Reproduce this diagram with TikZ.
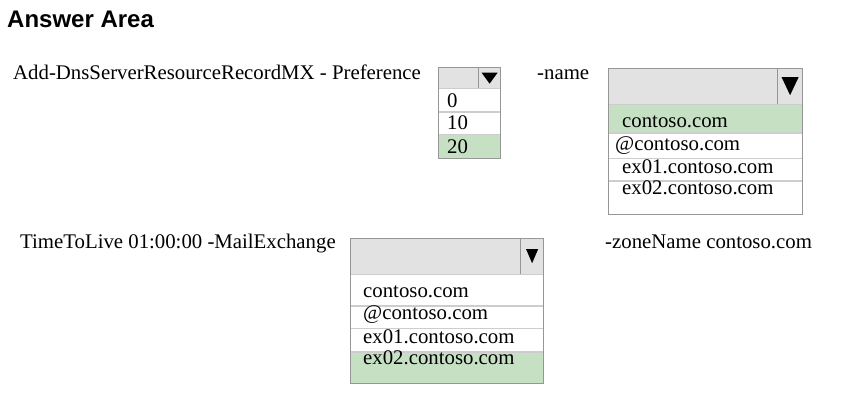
\documentclass[tikz,border=0pt]{standalone}
\usepackage{fontspec}
\setmainfont{Liberation Serif}
\newfontfamily\titlefont{Liberation Sans}
\usetikzlibrary{positioning, fit}
\definecolor{headgray}{RGB}{226,226,226}
\definecolor{linegray}{RGB}{150,150,150}
\definecolor{rowgray}{RGB}{205,205,205}
\definecolor{pickgreen}{RGB}{198,224,196}
\tikzstyle{title} = [anchor=base west, inner sep=0, font=\titlefont\bfseries\fontsize{24}{28}\selectfont]
\tikzstyle{cmd} = [anchor=base west, inner sep=0, font=\fontsize{20.8}{24}\selectfont]
\tikzstyle{ddhead} = [anchor=north west, inner sep=0, draw=linegray, fill=headgray]
\tikzstyle{ddbtn} = [inner sep=0, draw=linegray, fill=headgray]
\tikzstyle{ddrow} = [inner sep=0, draw=rowgray, fill=white, align=left, font=\fontsize{20.8}{24}\selectfont]
\tikzstyle{picked} = [fill=pickgreen]
\tikzstyle{ddframe} = [inner sep=0, draw=linegray, thick]

\begin{document}
\begin{tikzpicture}[x=1pt, y=1pt]
\useasboundingbox (0,0) rectangle (844,-401);

\node (TITLE) [title] at (7,-28) {Answer Area};
\node (CMD_ADD) [cmd] at (13,-80) {Add-DnsServerResourceRecordMX -\ Preference};
\node (CMD_NAME) [cmd] at (537,-80) {-name};
\node (CMD_TTL) [cmd] at (20,-248) {TimeToLive 01:00:00 -MailExchange};
\node (CMD_ZONE) [cmd] at (605,-248) {-zoneName contoso.com};

% preference list
\node (PREF_HEAD) [ddhead, minimum width=40pt, minimum height=21pt] at (438,-67) {};
\node (PREF_BTN) [ddbtn, right=0pt of PREF_HEAD, minimum width=22pt, minimum height=21pt] {};
\node (PREF_0) [ddrow, anchor=north west, text width=62pt, text height=19pt, text depth=4pt] at (PREF_HEAD.south west) {\hspace*{9pt}0};
\node (PREF_10) [ddrow, below=0pt of PREF_0, text width=62pt, text height=18pt, text depth=4pt] {\hspace*{9pt}10};
\node (PREF_20) [ddrow, picked, below=0pt of PREF_10, text width=62pt, text height=19pt, text depth=5pt] {\hspace*{9pt}20};
\node (PREF_BOX) [ddframe, fit=(PREF_HEAD) (PREF_BTN) (PREF_20)] {};
\fill ([shift={(-8,5)}]PREF_BTN.center) -- ([shift={(8,5)}]PREF_BTN.center) -- ([shift={(0,-6)}]PREF_BTN.center) -- cycle;

% name list
\node (NAME_HEAD) [ddhead, minimum width=169pt, minimum height=36pt] at (608,-68) {};
\node (NAME_BTN) [ddbtn, right=0pt of NAME_HEAD, minimum width=25pt, minimum height=36pt] {};
\node (NAME_1) [ddrow, picked, anchor=north west, text width=194pt, text height=23pt, text depth=5pt] at (NAME_HEAD.south west) {\hspace*{14pt}contoso.com};
\node (NAME_2) [ddrow, below=0pt of NAME_1, text width=194pt, text height=18pt, text depth=7pt] {\hspace*{7pt}@contoso.com};
\node (NAME_3) [ddrow, below=0pt of NAME_2, text width=194pt, text height=15pt, text depth=7pt] {\hspace*{14pt}ex01.contoso.com};
\node (NAME_4) [ddrow, below=0pt of NAME_3, text width=194pt, text height=14pt, text depth=19pt] {\hspace*{14pt}ex02.contoso.com};
\node (NAME_BOX) [ddframe, fit=(NAME_HEAD) (NAME_BTN) (NAME_4)] {};
\fill ([shift={(-8.5,9)}]NAME_BTN.center) -- ([shift={(8.5,9)}]NAME_BTN.center) -- ([shift={(0,-9)}]NAME_BTN.center) -- cycle;

% mail exchange list
\node (MX_HEAD) [ddhead, minimum width=170pt, minimum height=36pt] at (350,-238) {};
\node (MX_BTN) [ddbtn, right=0pt of MX_HEAD, minimum width=23pt, minimum height=36pt] {};
\node (MX_1) [ddrow, anchor=north west, text width=193pt, text height=23pt, text depth=8pt] at (MX_HEAD.south west) {\hspace*{13pt}contoso.com};
\node (MX_2) [ddrow, below=0pt of MX_1, text width=193pt, text height=13pt, text depth=9pt] {\hspace*{13pt}@contoso.com};
\node (MX_3) [ddrow, below=0pt of MX_2, text width=193pt, text height=15pt, text depth=8pt] {\hspace*{13pt}ex01.contoso.com};
\node (MX_4) [ddrow, picked, below=0pt of MX_3, text width=193pt, text height=13pt, text depth=18pt] {\hspace*{13pt}ex02.contoso.com};
\node (MX_BOX) [ddframe, fit=(MX_HEAD) (MX_BTN) (MX_4)] {};
\fill ([shift={(-6,7)}]MX_BTN.center) -- ([shift={(6,7)}]MX_BTN.center) -- ([shift={(0,-7)}]MX_BTN.center) -- cycle;

\end{tikzpicture}
\end{document}
